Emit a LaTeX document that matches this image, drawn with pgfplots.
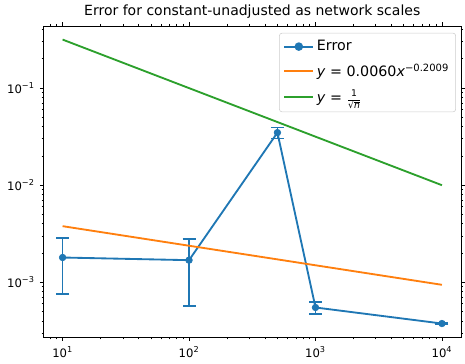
\documentclass[border=0pt]{standalone}
\usepackage{fontspec}
\setmainfont{DejaVu Sans}
\usepackage{pgfplots}
\pgfplotsset{compat=1.18}
\definecolor{c0}{HTML}{1F77B4}
\definecolor{c1}{HTML}{FF7F0E}
\definecolor{c2}{HTML}{2CA02C}
\newcommand{\sm}{\fontsize{7}{7}\selectfont}
\begin{document}
\begin{tikzpicture}
\begin{axis}[
  xmode=log, ymode=log,
  scale only axis,
  width=315.75pt, height=235.5pt,
  xmin=7.08, xmax=14125,
  ymin=2.72e-4, ymax=0.437,
  axis line style={line width=0.6pt},
  tick align=outside,
  tick style={black, line width=0.6pt},
  major tick length=2.8pt,
  minor tick length=1.6pt,
  xtick={10,100,1000,10000},
  xticklabels={10\textsuperscript{1},10\textsuperscript{2},10\textsuperscript{3},10\textsuperscript{4}},
  minor xtick={8,9,20,30,40,50,60,70,80,90,200,300,400,500,600,700,800,900,2000,3000,4000,5000,6000,7000,8000,9000},
  ytick={1e-3,1e-2,1e-1},
  yticklabels={10\textsuperscript{−3},10\textsuperscript{−2},10\textsuperscript{−1}},
  minor ytick={3e-4,4e-4,5e-4,6e-4,7e-4,8e-4,9e-4,2e-3,3e-3,4e-3,5e-3,6e-3,7e-3,8e-3,9e-3,2e-2,3e-2,4e-2,5e-2,6e-2,7e-2,8e-2,9e-2,2e-1,3e-1,4e-1},
  ticklabel style={font=\fontsize{8.8}{10.5}\selectfont},
  xticklabel style={yshift=-0.5pt},
  yticklabel style={xshift=-0.5pt},
  title={Error for constant-unadjusted as network scales},
  title style={font=\fontsize{10.6}{12.5}\selectfont, yshift=-3.5pt},
  legend style={at={(1,1)}, anchor=north east, xshift=-3.75pt, yshift=-5.25pt,
    draw=black!20, rounded corners=2pt, font=\fontsize{10.8}{13}\selectfont,
    row sep=4.5pt, inner xsep=3pt, inner ysep=3.5pt, cells={anchor=west}},
  legend cell align=left,
]
\addplot[color=c0, line width=1.4pt, mark=*, mark size=2.5pt, mark options={fill=c0, draw=c0, line width=0.5pt},
  legend image code/.code={\draw[c0,line width=1.4pt] (0pt,0pt) -- (22pt,0pt); \fill[c0] (11pt,0pt) circle (2.5pt);},
  error bars/.cd, y dir=both, y explicit,
  error bar style={line width=1.3pt, color=c0},
  error mark options={rotate=90, mark size=4.9pt, line width=1.3pt, color=c0}]
coordinates {
  (10,1.80e-3) +- (0,1.04e-3)
  (100,1.69e-3) +- (0,1.12e-3)
  (500,0.0348) +- (0,0.0045)
  (1000,5.5e-4) +- (0,0.75e-4)
  (10000,3.76e-4) +- (0,0.08e-4)
};
\addlegendentry{Error}
\addplot[color=c1, line width=1.4pt,
  legend image code/.code={\draw[c1,line width=1.4pt] (0pt,0.4pt) -- (22pt,0.4pt);}]
coordinates {
  (10,0.003785) (100,0.002380) (500,0.001722) (1000,0.001497) (10000,0.000942)
};
\addlegendentry{\textit{y} = 0.0060\textit{x}\textsuperscript{−0.2009}}
\addplot[color=c2, line width=1.4pt,
  legend image code/.code={\draw[c2,line width=1.4pt] (0pt,0pt) -- (22pt,0pt);}]
coordinates {
  (10,0.31623) (100,0.1) (500,0.044721) (1000,0.031623) (10000,0.01)
};
\addlegendentry{\textit{y} = \raisebox{-1pt}{$\frac{\raisebox{1.2pt}{\sm 1}}{\mbox{\sm √}\overline{\mbox{\sm\itshape n}}}$}}
\end{axis}
\path (current axis.south west) ++(-33pt,-20.25pt) coordinate (bbsw);
\path (current axis.north east) ++(0pt,18pt) coordinate (bbne);
\path (bbsw) rectangle (bbne);
\end{tikzpicture}
\end{document}
